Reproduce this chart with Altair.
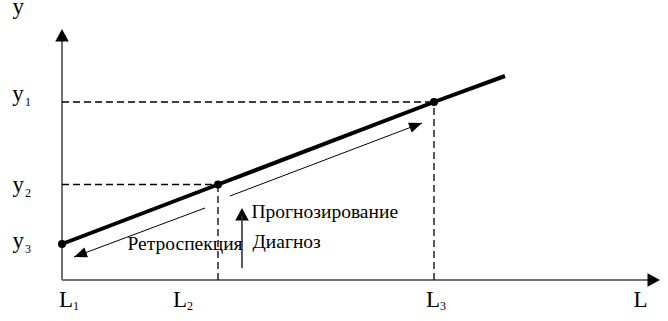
import altair as alt
import pandas as pd

# Diagram coordinates: origin at the axes' intersection, L to the right, y upward
L_NAMES = ["L1", "L2", "L3"]
L_VALUES = [0, 156, 372]
Y_NAMES = ["y3", "y2", "y1"]
Y_VALUES = [36, 95.5, 178]
LINE_END = [443, 204]
X_AXIS_END = 598
Y_AXIS_END = 251

RETRO_FROM = [143, 72]
RETRO_TO = [12, 23]
FORECAST_FROM = [168, 84]
FORECAST_TO = [360, 157]
DIAG_X = 180
DIAG_FROM = 12
DIAG_TO = 72

AXIS_NAMES = ["y", "L"]
AXIS_NAME_X = [-49.5, 571.5]
AXIS_NAME_Y = [266, -27]

TICK_MAIN = ["y", "y", "y", "L", "L", "L"]
TICK_SUB = ["1", "2", "3", "1", "2", "3"]
TICK_X = [-49.8, -49.5, -49.5, -3, 111, 364]
TICK_Y = [179, 88, 32, -27, -27, -27]
SUB_X = [-37, -37, -37, 11, 125, 378]
SUB_Y = [174, 83, 27, -30, -30, -30]

WORDS = ["Прогнозирование", "Диагноз", "Ретроспекция"]
WORD_X = [189.5, 190.5, 65.5]
WORD_Y = [61.7, 32, 30]

FONT = "Liberation Serif, Times New Roman, DejaVu Serif, serif"
xs = alt.Scale(domain=[-62, 606], nice=False, zero=False)
ys = alt.Scale(domain=[-41, 280], nice=False, zero=False)
X = alt.X("x:Q", scale=xs, axis=None)
Y = alt.Y("y:Q", scale=ys, axis=None)

# axes
axes_df = pd.DataFrame({
    "x": [0, 0], "y": [0, 0],
    "x2": [X_AXIS_END - 6, 0], "y2": [0, Y_AXIS_END - 6],
})
axes = alt.Chart(axes_df).mark_rule(color="#707070", strokeWidth=2).encode(
    x=X, y=Y, x2="x2:Q", y2="y2:Q")

axis_heads_df = pd.DataFrame({
    "x": [X_AXIS_END, 0, DIAG_X], "y": [0, Y_AXIS_END, DIAG_TO], "angle": [90, 0, 0]})
axis_heads = alt.Chart(axis_heads_df).mark_point(
    shape="M0,0L-0.54,1L0.54,1Z", filled=True, color="#000000", opacity=1, size=625
).encode(x=X, y=Y, angle=alt.Angle("angle:Q", scale=None))

# dashed guide lines (from y-axis to point, and from point down to L-axis)
dash_df = pd.DataFrame({
    "x": [0, 0, L_VALUES[1], L_VALUES[2]],
    "y": [Y_VALUES[1], Y_VALUES[2], 0, 0],
    "x2": [L_VALUES[1], L_VALUES[2], L_VALUES[1], L_VALUES[2]],
    "y2": [Y_VALUES[1], Y_VALUES[2], Y_VALUES[1], Y_VALUES[2]],
})
dashes = alt.Chart(dash_df).mark_rule(color="#000000", strokeWidth=1.3, strokeDash=[7, 4]).encode(
    x=X, y=Y, x2="x2:Q", y2="y2:Q")

# main line
line_df = pd.DataFrame({"x": L_VALUES + [LINE_END[0]], "y": Y_VALUES + [LINE_END[1]],
                        "o": [0, 1, 2, 3]})
line = alt.Chart(line_df).mark_line(color="#000000", strokeWidth=4).encode(
    x=X, y=Y, order="o:O")

dots_df = pd.DataFrame({"x": L_VALUES, "y": Y_VALUES})
dots = alt.Chart(dots_df).mark_circle(color="#000000", opacity=1, size=64).encode(x=X, y=Y)

# thin arrows
arr_df = pd.DataFrame({
    "x": [RETRO_FROM[0], FORECAST_FROM[0]], "y": [RETRO_FROM[1], FORECAST_FROM[1]],
    "x2": [RETRO_TO[0], FORECAST_TO[0]], "y2": [RETRO_TO[1], FORECAST_TO[1]],
})
arrows = alt.Chart(arr_df).mark_rule(color="#000000", strokeWidth=1).encode(
    x=X, y=Y, x2="x2:Q", y2="y2:Q")
arr_heads_df = pd.DataFrame({"x": [RETRO_TO[0], FORECAST_TO[0]],
                             "y": [RETRO_TO[1], FORECAST_TO[1]], "angle": [249.5, 69.2]})
arr_heads = alt.Chart(arr_heads_df).mark_point(
    shape="M0,0L-0.4,1L0.4,1Z", filled=True, color="#000000", opacity=1, size=676
).encode(x=X, y=Y, angle=alt.Angle("angle:Q", scale=None))

diag_df = pd.DataFrame({"x": [DIAG_X], "y": [DIAG_FROM], "y2": [DIAG_TO - 8]})
diag = alt.Chart(diag_df).mark_rule(color="#333333", strokeWidth=1.6).encode(
    x=X, y=Y, y2="y2:Q")

# texts
names_df = pd.DataFrame({"x": AXIS_NAME_X, "y": AXIS_NAME_Y, "t": AXIS_NAMES})
ticks_df = pd.DataFrame({"x": TICK_X, "y": TICK_Y, "t": TICK_MAIN})
subs_df = pd.DataFrame({"x": SUB_X, "y": SUB_Y, "t": TICK_SUB})
words_df = pd.DataFrame({"x": WORD_X, "y": WORD_Y, "t": WORDS})

def txt(df, size):
    return alt.Chart(df).mark_text(font=FONT, fontSize=size, align="left",
                                   baseline="alphabetic", color="#000000").encode(
        x=X, y=Y, text="t:N")

chart = alt.layer(
    axes, axis_heads, dashes, line, dots, arrows, arr_heads, diag,
    txt(names_df, 23), txt(ticks_df, 23), txt(subs_df, 12), txt(words_df, 19.5),
).properties(width=668, height=321, padding=0, autosize="none").configure_view(stroke=None)

chart.save("out.html", embed_options={"renderer": "svg", "actions": False})
